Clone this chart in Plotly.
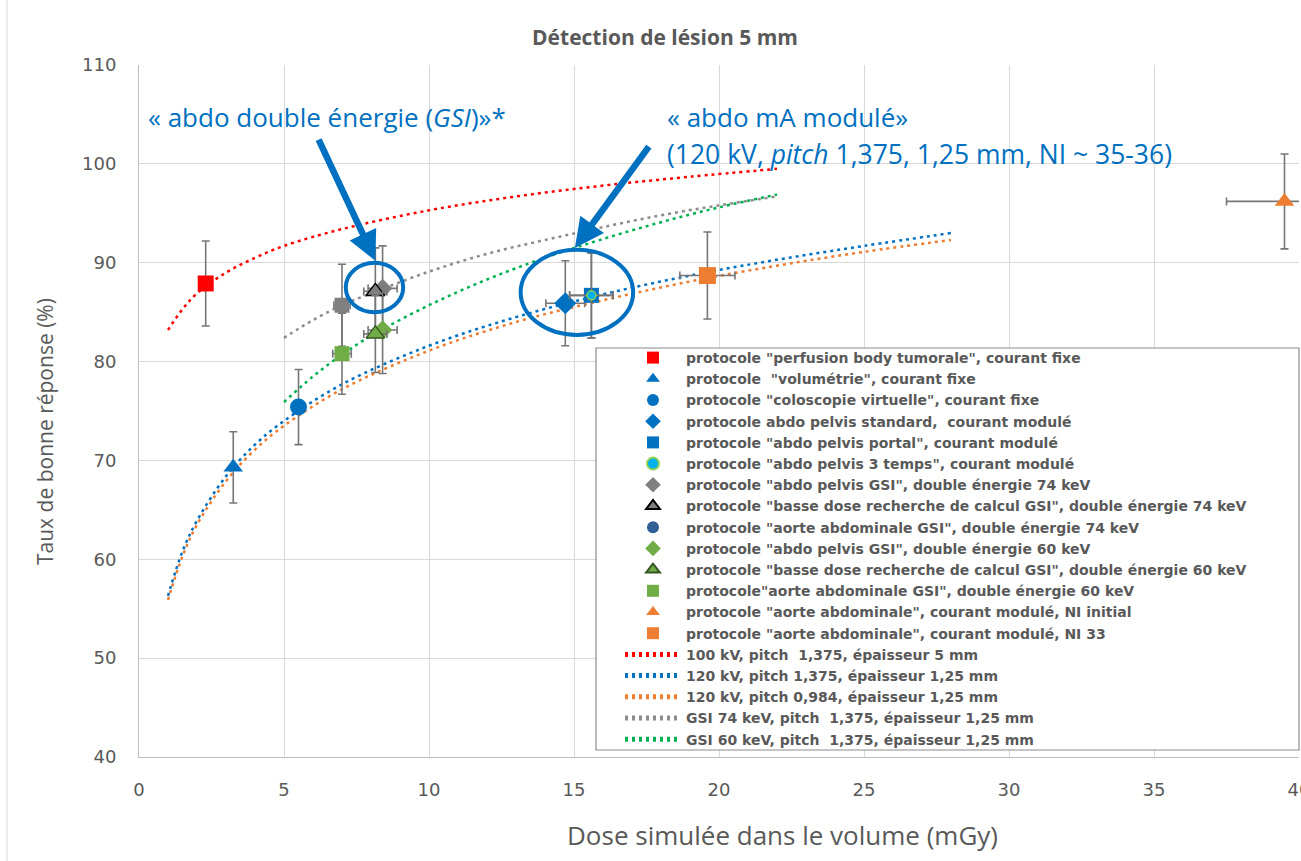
import plotly.graph_objects as go

# ---------------- data ----------------
series_names = [
    'protocole "perfusion body tumorale", courant fixe',
    'protocole  "volumétrie", courant fixe',
    'protocole "coloscopie virtuelle", courant fixe',
    'protocole abdo pelvis standard,  courant modulé',
    'protocole "abdo pelvis portal", courant modulé',
    'protocole "abdo pelvis 3 temps", courant modulé',
    'protocole "abdo pelvis GSI", double énergie 74 keV',
    'protocole "basse dose recherche de calcul GSI", double énergie 74 keV',
    'protocole "aorte abdominale GSI", double énergie 74 keV',
    'protocole "abdo pelvis GSI", double énergie 60 keV',
    'protocole "basse dose recherche de calcul GSI", double énergie 60 keV',
    'protocole"aorte abdominale GSI", double énergie 60 keV',
    'protocole "aorte abdominale", courant modulé, NI initial',
    'protocole "aorte abdominale", courant modulé, NI 33',
]
dose = [2.3, 3.25, 5.5, 14.7, 15.6, 15.6, 8.4, 8.15, 7.0, 8.4, 8.15, 7.0, 39.5, 19.6]
taux = [87.9, 69.3, 75.4, 85.9, 86.7, 86.7, 87.4, 87.1, 85.7, 83.2, 82.8, 80.8, 96.2, 88.7]
err_taux = [4.3, 3.6, 3.8, 4.3, 4.3, 4.3, 4.3, 4.4, 4.15, 4.4, 3.9, 4.1, 4.8, 4.4]
err_dose = [0, 0, 0, 0.67, 0.75, 0.75, 0.5, 0.4, 0.28, 0.5, 0.4, 0.32, 2.0, 0.95]

trend_names = [
    '100 kV, pitch  1,375, épaisseur 5 mm',
    '120 kV, pitch 1,375, épaisseur 1,25 mm',
    '120 kV, pitch 0,984, épaisseur 1,25 mm',
    'GSI 74 keV, pitch  1,375, épaisseur 1,25 mm',
    'GSI 60 keV, pitch  1,375, épaisseur 1,25 mm',
]
red_x = [1, 1.5, 2, 3, 4, 5, 7, 10, 13, 16, 19, 22]
red_y = [83.2, 85.3, 86.9, 89.0, 90.5, 91.7, 93.4, 95.3, 96.7, 97.8, 98.7, 99.5]
kv120_x = [1, 1.5, 2, 3, 4, 5, 7, 10, 13, 16, 19, 22, 25, 28]
blue_y = [56.3, 60.8, 63.9, 68.4, 71.6, 74.0, 77.7, 81.6, 84.5, 86.8, 88.7, 90.3, 91.7, 93.0]
orange_y = [55.9, 60.3, 63.5, 67.9, 71.1, 73.5, 77.2, 81.1, 84.0, 86.2, 88.1, 89.7, 91.1, 92.3]
gsi_x = [5, 6, 7, 8, 10, 12, 14, 16, 18, 20, 22]
gray_y = [82.4, 84.2, 85.7, 86.9, 89.1, 90.9, 92.3, 93.6, 94.8, 95.8, 96.7]
green_y = [75.9, 78.5, 80.7, 82.6, 85.7, 88.3, 90.5, 92.4, 94.1, 95.6, 96.9]

x_ticks = [0, 5, 10, 15, 20, 25, 30, 35, 40]
y_ticks = [40, 50, 60, 70, 80, 90, 100, 110]

# ---------------- styles ----------------
marker_styles = [
    dict(symbol='square', color='#FF0000', size=16),
    dict(symbol='triangle-up', color='#0070C0', size=17),
    dict(symbol='circle', color='#0070C0', size=17),
    dict(symbol='diamond', color='#0070C0', size=17),
    dict(symbol='square', color='#0070C0', size=15),
    dict(symbol='circle', color='#00B0F0', size=9, line=dict(color='#92D050', width=1.5)),
    dict(symbol='diamond', color='#808080', size=15),
    dict(symbol='triangle-up', color='#808080', size=16, line=dict(color='#000000', width=1.5)),
    dict(symbol='square', color='#808080', size=15),
    dict(symbol='diamond', color='#70AD47', size=15),
    dict(symbol='triangle-up', color='#70AD47', size=16, line=dict(color='#375623', width=1.5)),
    dict(symbol='square', color='#70AD47', size=15),
    dict(symbol='triangle-up', color='#ED7D31', size=17),
    dict(symbol='square', color='#ED7D31', size=17),
]
legend_proxy = {8: dict(symbol='circle', color='#2F5F94', size=10)}
ERR = '#767676'
FONT = 'Open Sans'
TXT = '#595959'

fig = go.Figure()

trend_data = [(red_x, red_y, '#FF0000'), (kv120_x, blue_y, '#0070C0'),
              (kv120_x, orange_y, '#ED7D31'), (gsi_x, gray_y, '#8C8C8C'),
              (gsi_x, green_y, '#00B050')]
for i, (tx, ty, col) in enumerate(trend_data):
    fig.add_trace(go.Scatter(
        x=tx, y=ty, mode='lines', name=trend_names[i],
        line=dict(color=col, width=2.5, dash='3px,4px', shape='spline', smoothing=1.0),
        legendrank=100 + i, hoverinfo='skip'))

for i, name in enumerate(series_names):
    ms = dict(marker_styles[i])
    has_ex = err_dose[i] > 0
    fig.add_trace(go.Scatter(
        x=[dose[i]], y=[taux[i]], mode='markers', name=name,
        marker=ms, legendrank=10 + i, showlegend=(i not in legend_proxy),
        error_y=dict(type='data', array=[err_taux[i]], color=ERR, thickness=1.6, width=4),
        error_x=dict(type='data', array=[err_dose[i]], color=ERR, thickness=1.6, width=4,
                     visible=has_ex)))
    if i in legend_proxy:
        fig.add_trace(go.Scatter(x=[None], y=[None], mode='markers', name=name,
                                 marker=legend_proxy[i], legendrank=10 + i))

# ---------------- helpers for pixel placement ----------------
PL, PR, PT, PB = 139, 1299, 65, 757
def px(xp):
    return (xp - PL) / (PR - PL)
def py(yp):
    return (PB - yp) / (PB - PT)

BLUE = '#0070C0'
annotations = [
    dict(text='« abdo double énergie (<i>GSI</i>)»*', x=px(146), y=py(117), xref='paper', yref='paper',
         xanchor='left', yanchor='middle', showarrow=False, font=dict(family=FONT, size=26, color=BLUE)),
    dict(text='« abdo mA modulé»', x=px(665), y=py(117), xref='paper', yref='paper',
         xanchor='left', yanchor='middle', showarrow=False, font=dict(family=FONT, size=26, color=BLUE)),
    dict(text='(120 kV, <i>pitch</i> 1,375, 1,25 mm, NI ~ 35-36)', x=px(665), y=py(154), xref='paper',
         yref='paper', xanchor='left', yanchor='middle', showarrow=False,
         font=dict(family=FONT, size=26.5, color=BLUE)),
    # arrows
    dict(text='', x=8.15, y=90.2, ax=6.17, ay=102.6, xref='x', yref='y', axref='x', ayref='y',
         showarrow=True, arrowhead=2, arrowsize=0.9, arrowwidth=6.5, arrowcolor=BLUE),
    dict(text='', x=15.03, y=91.5, ax=17.62, ay=101.9, xref='x', yref='y', axref='x', ayref='y',
         showarrow=True, arrowhead=2, arrowsize=0.9, arrowwidth=6.5, arrowcolor=BLUE),
    # axis titles
    dict(text='Taux de bonne réponse (%)', x=px(45), y=py(432), xref='paper', yref='paper',
         textangle=-90, showarrow=False, xanchor='center', yanchor='middle',
         font=dict(family=FONT, size=21, color=TXT)),
    dict(text='Dose simulée dans le volume (mGy)', x=px(782), y=py(835), xref='paper', yref='paper',
         showarrow=False, xanchor='center', yanchor='middle',
         font=dict(family=FONT, size=26, color=TXT)),
]

shapes = [
    dict(type='circle', xref='x', yref='y', x0=7.13, x1=9.11, y0=85.0, y1=90.0,
         line=dict(color=BLUE, width=4)),
    dict(type='circle', xref='x', yref='y', x0=13.16, x1=17.04, y0=82.7, y1=91.3,
         line=dict(color=BLUE, width=4)),
    dict(type='rect', xref='paper', yref='paper', x0=px(596), x1=px(1299), y0=py(750), y1=py(348),
         line=dict(color='#8C8C8C', width=1.2), fillcolor='white', layer='above'),
    dict(type='line', xref='paper', yref='paper', x0=px(7), x1=px(7), y0=py(861), y1=py(0),
         line=dict(color='#D9D9D9', width=1)),
]

fig.update_layout(
    width=1301, height=861, autosize=False,
    margin=dict(l=PL, r=1301 - PR, t=PT, b=861 - PB, autoexpand=False),
    paper_bgcolor='white', plot_bgcolor='white',
    title=dict(text='<b>Détection de lésion 5 mm</b>', x=665 / 1301, xanchor='center',
               y=1 - 38 / 861, yanchor='middle', xref='container', yref='container',
               font=dict(family=FONT, size=21, color=TXT)),
    xaxis=dict(range=[0, 40], tickvals=x_ticks, ticktext=[str(v) for v in x_ticks],
               showgrid=True, gridcolor='#D9D9D9', gridwidth=1, zeroline=False,
               showline=True, linecolor='#BFBFBF', linewidth=1, ticks='',
               ticklabelstandoff=16, ticklabeloverflow='allow', automargin=False,
               tickfont=dict(family='DejaVu Sans', size=18, color=TXT)),
    yaxis=dict(range=[40, 110], tickvals=y_ticks, ticktext=[str(v) for v in y_ticks],
               showgrid=True, gridcolor='#D9D9D9', gridwidth=1, zeroline=False,
               showline=True, linecolor='#BFBFBF', linewidth=1, ticks='',
               ticklabelstandoff=18, ticklabeloverflow='allow', automargin=False,
               tickfont=dict(family='DejaVu Sans', size=18, color=TXT)),
    legend=dict(x=px(620), y=py(342), xanchor='left', yanchor='top', xref='paper', yref='paper',
                bgcolor='rgba(0,0,0,0)', borderwidth=0, itemwidth=56, itemsizing='constant',
                tracegroupgap=0, traceorder='normal',
                font=dict(family='DejaVu Sans', size=14, color=TXT, weight='bold')),
    annotations=annotations, shapes=shapes, showlegend=True,
)

fig.write_html('out.html', config={'displayModeBar': False},
               post_script="document.body.style.margin='0';document.body.style.padding='0';")
